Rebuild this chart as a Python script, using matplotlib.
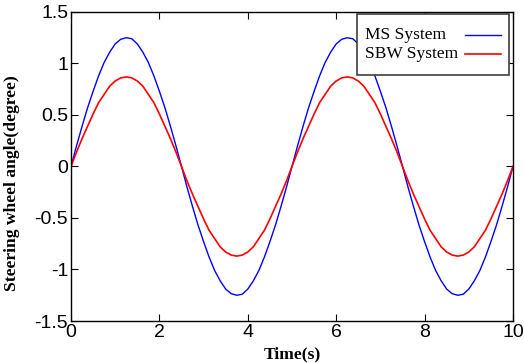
import matplotlib
matplotlib.use('Agg')
import matplotlib.pyplot as plt

# time samples (s), every 0.125 s
t = [i * 0.125 for i in range(81)]

# values (degree)
ms = [0, 0.20, 0.39, 0.57, 0.73, 0.88, 1.01, 1.11, 1.19, 1.235,
      1.25, 1.24, 1.19, 1.11, 1.01, 0.88, 0.73, 0.57, 0.39, 0.20,
      0, -0.20, -0.39, -0.57, -0.73, -0.88, -1.01, -1.11, -1.19, -1.235,
      -1.25, -1.24, -1.19, -1.11, -1.01, -0.88, -0.73, -0.57, -0.39, -0.20,
      0, 0.20, 0.39, 0.57, 0.73, 0.88, 1.01, 1.11, 1.19, 1.235,
      1.25, 1.24, 1.19, 1.11, 1.01, 0.88, 0.73, 0.57, 0.39, 0.20,
      0, -0.20, -0.39, -0.57, -0.73, -0.88, -1.01, -1.11, -1.19, -1.235,
      -1.25, -1.24, -1.19, -1.11, -1.01, -0.88, -0.73, -0.57, -0.39, -0.20, 0]
sbw = [0, 0.14, 0.27, 0.39, 0.51, 0.62, 0.70, 0.78, 0.83, 0.86,
       0.87, 0.86, 0.83, 0.78, 0.70, 0.62, 0.51, 0.39, 0.27, 0.14,
       0, -0.14, -0.27, -0.39, -0.51, -0.62, -0.70, -0.78, -0.83, -0.86,
       -0.87, -0.86, -0.83, -0.78, -0.70, -0.62, -0.51, -0.39, -0.27, -0.14,
       0, 0.14, 0.27, 0.39, 0.51, 0.62, 0.70, 0.78, 0.83, 0.86,
       0.87, 0.86, 0.83, 0.78, 0.70, 0.62, 0.51, 0.39, 0.27, 0.14,
       0, -0.14, -0.27, -0.39, -0.51, -0.62, -0.70, -0.78, -0.83, -0.86,
       -0.87, -0.86, -0.83, -0.78, -0.70, -0.62, -0.51, -0.39, -0.27, -0.14, 0]

xticks = [0, 2, 4, 6, 8, 10]
yticks = [-1.5, -1, -0.5, 0, 0.5, 1, 1.5]
ylabels = ['-1.5', '-1', '-0.5', '0', '0.5', '1', '1.5']

fig = plt.figure(figsize=(5.24, 3.63), dpi=100)
ax = fig.add_axes([0.1355, 0.1157, 0.8435, 0.8513])

ax.plot(t, ms, color='#0000ff', lw=1, label='MS System')
ax.plot(t, sbw, color='#ff0000', lw=1.2, label='SBW System')

ax.set_xlim(0, 10)
ax.set_ylim(-1.5, 1.5)
ax.set_xticks(xticks)
ax.set_yticks(yticks)
ax.set_yticklabels(ylabels)
ax.tick_params(direction='in', top=True, right=True, length=5, width=0.8,
               labelsize=14, pad=2)
for lab in ax.get_xticklabels() + ax.get_yticklabels():
    lab.set_family('Liberation Sans')
for s in ax.spines.values():
    s.set_linewidth(1)

ax.set_xlabel('Time(s)', family='Liberation Serif', weight='bold', fontsize=12.6, labelpad=4)
ax.set_ylabel('Steering wheel angle(degree)', family='Liberation Serif', weight='bold',
              fontsize=12.6)
ax.yaxis.set_label_coords(-0.115, 0.447)

# matlab style legend: text left, line right
leg = ax.legend(loc='upper right', bbox_to_anchor=(0.991, 0.994), borderaxespad=0,
                markerfirst=False, fancybox=False, frameon=True, framealpha=1,
                edgecolor='#404040', handlelength=2.1, handletextpad=0.4,
                labelspacing=-0.4, borderpad=0.46,
                prop={'family': 'Liberation Serif', 'size': 12.5})
leg.get_frame().set_linewidth(1.2)
for col in leg._legend_handle_box.get_children():
    col.align = 'left'
    for item in col.get_children():
        item.mode = 'expand'
        item.width = 136
        item.align = 'center'
        item.height = 26

fig.savefig('out.png', dpi=100)
